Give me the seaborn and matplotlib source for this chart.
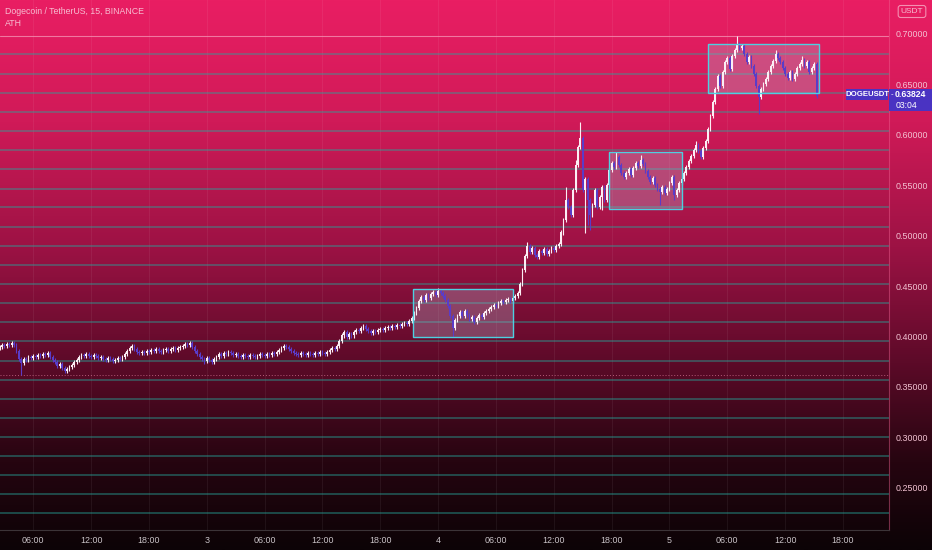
import numpy as np
import pandas as pd
import matplotlib
matplotlib.use("Agg")
import matplotlib.pyplot as plt
import seaborn as sns
from matplotlib.patches import Rectangle
from matplotlib.colors import LinearSegmentedColormap

# ---------------- data ----------------
closes = [
    0.390, 0.392, 0.391, 0.393, 0.392, 0.394, 0.392, 0.386, 0.378, 0.374,
    0.378, 0.377, 0.380, 0.379, 0.381, 0.380, 0.382, 0.381, 0.383, 0.382,
    0.384, 0.380, 0.377, 0.375, 0.371, 0.373, 0.369, 0.366, 0.368, 0.370,
    0.372, 0.375, 0.377, 0.380, 0.382, 0.381, 0.383, 0.381, 0.380, 0.382,
    0.381, 0.379, 0.380, 0.378, 0.377, 0.379, 0.378, 0.376, 0.377, 0.379,
    0.378, 0.380, 0.383, 0.386, 0.389, 0.391, 0.388, 0.385, 0.384, 0.385,
    0.384, 0.386, 0.385, 0.387, 0.386, 0.388, 0.386, 0.385, 0.387, 0.388,
    0.386, 0.388, 0.389, 0.387, 0.389, 0.390, 0.391, 0.393, 0.392, 0.394,
    0.390, 0.386, 0.383, 0.380, 0.378, 0.376, 0.379, 0.377, 0.375, 0.378,
    0.380, 0.383, 0.381, 0.384, 0.383, 0.385, 0.384, 0.382, 0.383, 0.381,
    0.380, 0.382, 0.381, 0.380, 0.382, 0.381, 0.380, 0.381, 0.383, 0.382,
    0.381, 0.383, 0.382, 0.384, 0.383, 0.385, 0.387, 0.389, 0.391, 0.390,
    0.388, 0.386, 0.384, 0.383, 0.382, 0.384, 0.383, 0.382, 0.384, 0.383,
    0.382, 0.384, 0.383, 0.385, 0.384, 0.383, 0.385, 0.387, 0.389, 0.388,
    0.391, 0.396, 0.401, 0.404, 0.400, 0.402, 0.401, 0.404, 0.406, 0.405,
    0.408, 0.410, 0.407, 0.405, 0.403, 0.405, 0.404, 0.406, 0.407, 0.406,
    0.408, 0.409, 0.408, 0.410, 0.409, 0.411, 0.410, 0.412, 0.413, 0.412,
    0.415, 0.418, 0.423, 0.428, 0.435, 0.439, 0.436, 0.441, 0.438, 0.442,
    0.444, 0.441, 0.445, 0.443, 0.440, 0.436, 0.430, 0.420, 0.408, 0.416,
    0.420, 0.424, 0.420, 0.425, 0.421, 0.417, 0.419, 0.414, 0.418, 0.421,
    0.419, 0.423, 0.425, 0.427, 0.429, 0.431, 0.430, 0.433, 0.435, 0.434,
    0.436, 0.437, 0.435, 0.438, 0.440, 0.443, 0.452, 0.466, 0.480, 0.490,
    0.484, 0.488, 0.481, 0.479, 0.485, 0.483, 0.487, 0.482, 0.485, 0.488,
    0.486, 0.490, 0.492, 0.503, 0.515, 0.535, 0.528, 0.520, 0.545, 0.570,
    0.588, 0.597, 0.545, 0.556, 0.535, 0.520, 0.530, 0.545, 0.528, 0.538,
    0.548, 0.535, 0.550, 0.565, 0.572, 0.568, 0.578, 0.570, 0.562, 0.558,
    0.562, 0.566, 0.560, 0.567, 0.572, 0.569, 0.575, 0.571, 0.564, 0.558,
    0.553, 0.557, 0.550, 0.546, 0.543, 0.548, 0.542, 0.546, 0.552, 0.558,
    0.540, 0.545, 0.552, 0.556, 0.562, 0.568, 0.574, 0.579, 0.585, 0.590,
    0.584, 0.578, 0.587, 0.594, 0.605, 0.618, 0.632, 0.645, 0.658, 0.648,
    0.662, 0.672, 0.676, 0.665, 0.678, 0.684, 0.690, 0.686, 0.688, 0.680,
    0.672, 0.677, 0.668, 0.660, 0.648, 0.637, 0.645, 0.650, 0.655, 0.662,
    0.668, 0.673, 0.680, 0.676, 0.672, 0.666, 0.660, 0.656, 0.662, 0.655,
    0.660, 0.666, 0.670, 0.674, 0.668, 0.672, 0.662, 0.666, 0.670, 0.63824,
]
first_open = 0.389
first_bar_hour = 2.5        # day 2, 02:30 (hours since day 2 00:00)
bar_hours = 0.25            # 15-minute candles

wick_highs = {77: 0.395, 143: 0.406, 182: 0.448, 219: 0.494, 235: 0.548,
              239: 0.575, 241: 0.612, 256: 0.583, 266: 0.580, 289: 0.594,
              306: 0.698, 322: 0.684, 333: 0.678}
wick_lows = {9: 0.362, 27: 0.364, 85: 0.373, 188: 0.400, 243: 0.502,
             244: 0.510, 245: 0.505, 250: 0.525, 274: 0.530, 280: 0.535,
             315: 0.620, 339: 0.636}

level_prices = [0.6794, 0.6603, 0.6413, 0.6222, 0.6035, 0.5844, 0.5655,
                0.5463, 0.5279, 0.5087, 0.4896, 0.4707, 0.4518, 0.4329,
                0.4140, 0.3951, 0.3762, 0.3573, 0.3384, 0.3195, 0.3006,
                0.2817, 0.2628, 0.2439, 0.2250]
ath_price = 0.698
low_mark_price = 0.3618

box_start = [45.4, 65.7, 76.0]
box_end = [55.8, 73.3, 87.5]
box_low = [0.3993, 0.5262, 0.6414]
box_high = [0.4467, 0.5827, 0.6893]

price_ticks = [0.25, 0.30, 0.35, 0.40, 0.45, 0.50, 0.55, 0.60, 0.65, 0.70]
time_ticks = [6, 12, 18, 24, 30, 36, 42, 48, 54, 60, 66, 72, 78, 84, 90]
time_labels = ["06:00", "12:00", "18:00", "3", "06:00", "12:00", "18:00", "4",
               "06:00", "12:00", "18:00", "5", "06:00", "12:00", "18:00"]

title_text = "Dogecoin / TetherUS, 15, BINANCE"
indicator_text = "ATH"
symbol_text = "DOGEUSDT"
last_price_text = "0.63824"
countdown_text = "03:04"
currency_text = "USDT"

# ---------------- frame ----------------
n = len(closes)
df = pd.DataFrame({
    "t": [first_bar_hour + bar_hours * i for i in range(n)],
    "close": closes,
})
df["open"] = [first_open] + closes[:-1]
df["up"] = df["close"] >= df["open"]
body_top = df[["open", "close"]].max(axis=1)
body_bot = df[["open", "close"]].min(axis=1)
df["high"] = [wick_highs.get(i, body_top[i] + 0.002) for i in range(n)]
df["low"] = [wick_lows.get(i, body_bot[i] - 0.002) for i in range(n)]

# ---------------- style ----------------
sns.set_theme(style="dark", rc={"axes.facecolor": "none", "figure.facecolor": "#120308"})
plt.rcParams["font.family"] = ["Liberation Sans", "DejaVu Sans"]

W, H = 932, 550
fig = plt.figure(figsize=(W / 100, H / 100), dpi=100)

# background gradient over the whole figure
bg = fig.add_axes([0, 0, 1, 1], zorder=-10)
grad_cmap = LinearSegmentedColormap.from_list(
    "tvbg",
    [(0.0, "#e91e63"), (0.22, "#d01a58"), (0.45, "#9c1244"),
     (0.66, "#5c0a28"), (0.84, "#260510"), (1.0, "#0c0306")])
bg.imshow(np.linspace(0, 1, 256).reshape(-1, 1), aspect="auto", cmap=grad_cmap,
          extent=[0, 1, 0, 1], origin="upper")
bg.set_axis_off()

ax = fig.add_axes([0, 20 / H, 889 / W, 530 / H])
ax.set_facecolor("none")
ax.set_xlim(2.55, 94.77)
ax.set_ylim(0.2084, 0.7332)

# vertical grid
for t in time_ticks:
    ax.axvline(t, color="white", alpha=0.06, lw=0.8, zorder=0)

# level lines
for p in level_prices:
    ax.axhline(p, color="#26a69a", alpha=0.5, lw=1.2, zorder=1)
ax.axhline(ath_price, color="#f48fb1", alpha=0.8, lw=0.8, zorder=1)
ax.axhline(low_mark_price, color="#f48fb1", alpha=0.6, lw=0.7, ls=(0, (1, 2)), zorder=1)

# boxes
for x0, x1, y0, y1 in zip(box_start, box_end, box_low, box_high):
    ax.add_patch(Rectangle((x0, y0), x1 - x0, y1 - y0, facecolor="#b0b0c8",
                           alpha=0.33, edgecolor="none", zorder=2))
    ax.add_patch(Rectangle((x0, y0), x1 - x0, y1 - y0, facecolor="none",
                           edgecolor="#4dd0e1", lw=1.0, zorder=4))

# candles
up_col, dn_col = "#fbeef4", "#5a3cc8"
colors = np.where(df["up"], up_col, dn_col)
ax.vlines(df["t"], df["low"], df["high"], colors=colors, lw=0.8, zorder=3)
heights = np.maximum(body_top - body_bot, 0.001)
ax.bar(df["t"], heights, bottom=body_bot, width=bar_hours * 0.72,
       color=colors, edgecolor="none", zorder=3)

# axes styling
ax.yaxis.tick_right()
ax.set_yticks(price_ticks)
ax.set_yticklabels([f"{p:.5f}" for p in price_ticks])
ax.set_xticks(time_ticks)
ax.set_xticklabels(time_labels)
ax.tick_params(axis="y", length=0, pad=5, labelsize=6.4, labelcolor="#f3c3d3")
ax.tick_params(axis="x", length=0, pad=4, labelsize=6.4, labelcolor="#c9c3c7")
ax.grid(False)
for s in ["top", "left"]:
    ax.spines[s].set_visible(False)
ax.spines["right"].set_color("#f06292")
ax.spines["right"].set_alpha(0.45)
ax.spines["right"].set_linewidth(0.8)
ax.spines["bottom"].set_color("#3c3438")
ax.spines["bottom"].set_linewidth(0.8)

# header texts
def fx(px):
    return px / W

def fy(py):
    return 1 - py / H

fig.text(fx(5), fy(12), title_text, fontsize=6.3, color="#f6bdd1",
         va="center", ha="left")
fig.text(fx(5), fy(24), indicator_text, fontsize=6.3, color="#f6bdd1",
         va="center", ha="left")

fig.text(fx(912), fy(11.5), currency_text, fontsize=6.0, color="#f6bdd1",
         va="center", ha="center",
         bbox=dict(boxstyle="round,pad=0.3,rounding_size=0.3", fc="none",
                   ec="#f48fb1", lw=0.8))

# last-price label
label_col = "#4a33c2"
fig.patches.append(Rectangle((fx(846), fy(100)), fx(888) - fx(846), fy(88.5) - fy(100),
                             transform=fig.transFigure, facecolor=label_col,
                             edgecolor="none", zorder=20))
fig.patches.append(Rectangle((fx(889), fy(111)), fx(932) - fx(889), fy(88.5) - fy(111),
                             transform=fig.transFigure, facecolor=label_col,
                             edgecolor="none", zorder=20))
fig.text(fx(867), fy(94.5), symbol_text, fontsize=5.6, color="white", weight="bold",
         va="center", ha="center", zorder=21)
fig.text(fx(890.5), fy(94.3), "-", fontsize=5.6, color="white",
         va="center", ha="left", zorder=21)
fig.text(fx(895), fy(94.5), last_price_text, fontsize=6.2, color="white", weight="bold",
         va="center", ha="left", zorder=21)
fig.text(fx(896), fy(105.5), countdown_text, fontsize=6.2, color="white",
         va="center", ha="left", zorder=21)

fig.savefig("out.png", dpi=100)
